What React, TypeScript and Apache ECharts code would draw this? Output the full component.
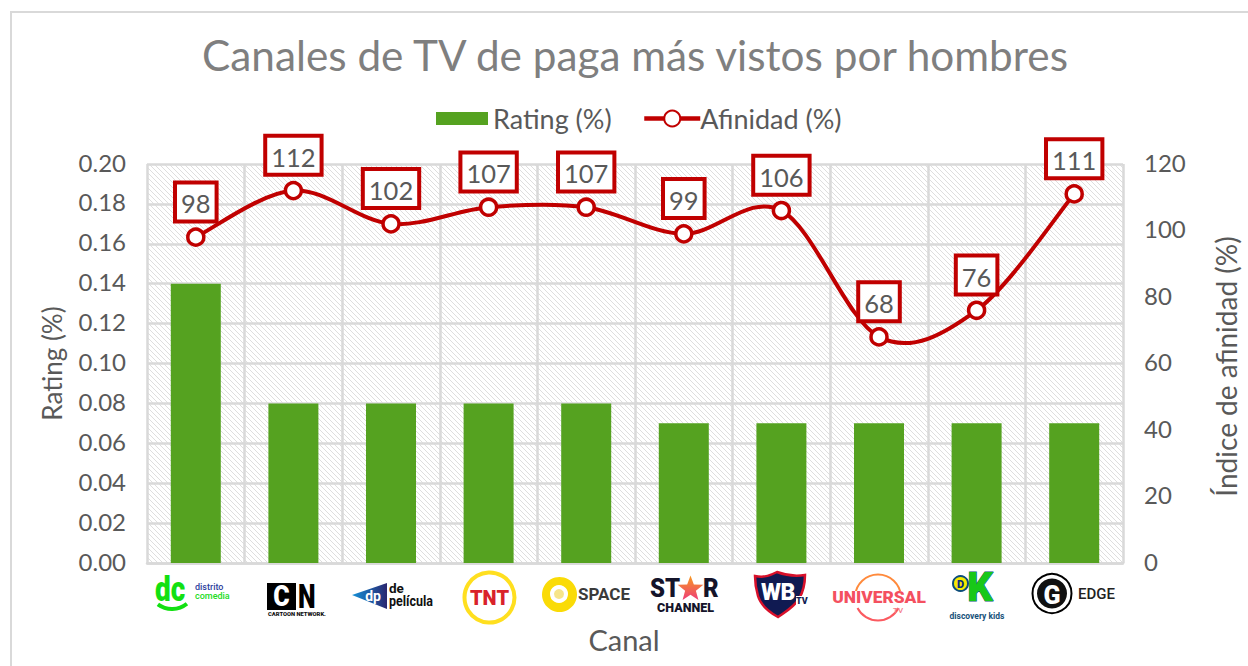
import React, { useEffect, useRef } from "react";
import * as echarts from "echarts";

const channels = ["Distrito Comedia", "Cartoon Network", "De Película", "TNT", "Space", "Star Channel", "WB TV", "Universal TV", "Discovery Kids", "Edge"];
const ratingValues = [0.14, 0.08, 0.08, 0.08, 0.08, 0.07, 0.07, 0.07, 0.07, 0.07];
const affinityValues = [98, 112, 102, 107, 107, 99, 106, 68, 76, 111];

const FONT = "Lato";
const GRAY = "#595959";
const RED = "#c00000";
const GREEN = "#55a220";
const GRID = { left: 147, right: 125, top: 164, bottom: 103 };

echarts.graphic.registerShape(
  "wbShield",
  echarts.graphic.extendPath(
    "M0 4 C10 6 16 3 22 0 C30 3 38 5 50 3 C50 12 48 20 44 27 C38 36 30 40 23 45 C14 40 6 34 3 24 C1 17 0 10 0 4 Z",
    {}
  )
);

function hatch() {
  const s = 5;
  const c = document.createElement("canvas");
  c.width = s;
  c.height = s;
  const g = c.getContext("2d")!;
  g.fillStyle = "#ffffff";
  g.fillRect(0, 0, s, s);
  g.strokeStyle = "#dedede";
  g.lineWidth = 1;
  g.beginPath();
  g.moveTo(-1, -1);
  g.lineTo(s + 1, s + 1);
  g.moveTo(-1, s - 1);
  g.lineTo(1, s + 1);
  g.moveTo(s - 1, -1);
  g.lineTo(s + 1, 1);
  g.stroke();
  return c;
}

const txt = (x: number, y: number, text: string, fontSize: number, fill: string, fontWeight: any = 700, textAlign = "left", scaleY = 1, extra: any = {}) => ({
  type: "text",
  x,
  y,
  scaleY,
  silent: true,
  style: { text, fontSize, fill, fontWeight, textAlign, textVerticalAlign: "middle", fontFamily: "Roboto", ...extra },
});

const star = (cx: number, cy: number, r: number) => {
  const pts: number[][] = [];
  for (let i = 0; i < 10; i++) {
    const a = -Math.PI / 2 + (i * Math.PI) / 5;
    const q = i % 2 ? r * 0.42 : r;
    pts.push([cx + q * Math.cos(a), cy + q * Math.sin(a)]);
  }
  return pts;
};

const logos: any[] = [
  // Distrito Comedia
  { type: "arc", shape: { cx: 172, cy: 585, r: 24, startAngle: 0.9, endAngle: 2.2 }, style: { stroke: "#12e012", lineWidth: 4, fill: "none" } },
  txt(155, 589, "dc", 28, "#12e012", 900, "left", 1.25),
  txt(195, 586.5, "distrito", 9, "#2e3f9e", 500),
  txt(195, 596, "comedia", 9, "#22dc22", 500),
  // Cartoon Network
  { type: "rect", shape: { x: 267, y: 583, width: 29, height: 27 }, style: { fill: "#000" } },
  txt(281.5, 596.5, "C", 25, "#fff", 900, "center", 1.15),
  txt(298, 596.5, "N", 25, "#000", 900, "left", 1.3),
  txt(268, 614, "CARTOON NETWORK.", 5.8, "#111", 900),
  // De Película
  { type: "polygon", shape: { points: [[352, 595], [387, 583], [387, 609]] }, style: { fill: new echarts.graphic.LinearGradient(0, 0, 1, 0, [{ offset: 0, color: "#1491d8" }, { offset: 1, color: "#2a2670" }]) } },
  txt(373, 596, "dp", 14, "#fff", 700, "center"),
  txt(389, 588, "de", 13.5, "#111", 700),
  txt(389, 601, "película", 12.5, "#111", 700, "left", 1.1),
  // TNT
  { type: "circle", shape: { cx: 489.5, cy: 597.5, r: 25 }, style: { fill: "#fff", stroke: "#ffdf1f", lineWidth: 4 } },
  txt(489.5, 598, "TNT", 20, "#d9222a", 900, "center"),
  // Space
  { type: "circle", shape: { cx: 559.5, cy: 594.5, r: 17.5 }, style: { fill: "#fadb06" } },
  { type: "circle", shape: { cx: 559, cy: 594, r: 7 }, style: { fill: "#f7e58a", stroke: "#fff", lineWidth: 4 } },
  txt(578, 594, "SPACE", 17, "#3a3a3a", 700),
  // Star Channel
  txt(650, 588, "ST", 24, "#14142a", 900, "left", 1.1),
  { type: "polygon", shape: { points: star(690.5, 589, 13.5) }, style: { fill: new echarts.graphic.LinearGradient(0, 0, 0, 1, [{ offset: 0, color: "#f79a20" }, { offset: 1, color: "#ee3d78" }]) } },
  txt(703, 588, "R", 24, "#14142a", 900, "left", 1.1),
  txt(685.5, 607, "CHANNEL", 12.5, "#14142a", 900, "center"),
  // WB TV
  { type: "wbShield", x: 755, y: 572, style: { fill: "#101a52", stroke: "#d8102a", lineWidth: 2.5 } },
  txt(771, 592, "W", 23, "#fff", 900, "center"),
  txt(788, 592, "B", 23, "#fff", 900, "center"),
  { type: "rect", shape: { x: 796, y: 596, width: 13, height: 10 }, style: { fill: "#fff" } },
  txt(796, 601, "TV", 9, "#101a52", 900),
  // Universal TV
  { type: "arc", shape: { cx: 878, cy: 597.5, r: 23, startAngle: Math.PI * 1.02, endAngle: Math.PI * 1.98 }, style: { stroke: "#ff8a3c", lineWidth: 2, fill: "none" } },
  { type: "arc", shape: { cx: 878, cy: 597.5, r: 23, startAngle: Math.PI * 0.15, endAngle: Math.PI * 0.85 }, style: { stroke: "#fb5a60", lineWidth: 2, fill: "none" } },
  { type: "rect", shape: { x: 833, y: 591, width: 92, height: 14 }, style: { fill: "#fff" } },
  txt(879, 597, "UNIVERSAL", 17.4, "#f4505f", 900, "center"),
  txt(898, 610, "TV", 8, "#f4808a", 500, "center"),
  // Discovery Kids
  txt(980, 587, "K", 40, "#18c818", 900, "center", 1, { stroke: "#0d5a7a", lineWidth: 1 }),
  { type: "circle", shape: { cx: 960.5, cy: 583.5, r: 7.5 }, style: { fill: "#f6ea00", stroke: "#0d4d7a", lineWidth: 2 } },
  txt(960.5, 584, "D", 11, "#0d2d7a", 900, "center"),
  txt(977, 616, "discovery kids", 8.5, "#17527a", 700, "center"),
  // Edge
  { type: "circle", shape: { cx: 1052, cy: 593.5, r: 19.5 }, style: { fill: "#fff", stroke: "#000", lineWidth: 2 } },
  { type: "circle", shape: { cx: 1052, cy: 593.5, r: 15 }, style: { fill: "#111" } },
  txt(1052, 595, "G", 25, "#fff", 900, "center"),
  txt(1078, 594, "EDGE", 15, "#222", 500),
];

// Excel-style smoothing: cubic segments with tangents (next - prev) / 6, free to overshoot.
const renderCurve = (params: any, api: any) => {
  const i = params.dataIndex;
  const n = affinityValues.length;
  if (i >= n - 1) return null;
  const pt = (k: number) => {
    const j = Math.max(0, Math.min(n - 1, k));
    return api.coord([j, affinityValues[j]]);
  };
  const p0 = pt(i - 1);
  const p1 = pt(i);
  const p2 = pt(i + 1);
  const p3 = pt(i + 2);
  return {
    type: "bezierCurve",
    shape: {
      x1: p1[0],
      y1: p1[1],
      x2: p2[0],
      y2: p2[1],
      cpx1: p1[0] + (p2[0] - p0[0]) / 6,
      cpy1: p1[1] + (p2[1] - p0[1]) / 6,
      cpx2: p2[0] - (p3[0] - p1[0]) / 6,
      cpy2: p2[1] - (p3[1] - p1[1]) / 6,
    },
    style: { stroke: RED, lineWidth: 4, fill: "none" },
  };
};

const legendText = { fontSize: 27, color: GRAY, fontFamily: FONT };
const tickRich = { t: { fontSize: 24, color: GRAY, fontFamily: FONT, padding: [0, 0, 4, 0] } };

const App = () => {
  const ref = useRef<HTMLDivElement>(null);
  useEffect(() => {
    const chart = echarts.init(ref.current!, undefined, { renderer: "svg" });
    chart.setOption({
      animation: false,
      backgroundColor: "#fff",
      textStyle: { fontFamily: FONT },
      title: {
        text: "Canales de TV de paga más vistos por hombres",
        left: 630,
        top: 28,
        textAlign: "center",
        textStyle: { fontFamily: FONT, fontSize: 42.3, fontWeight: 400, color: "#7f7f7f" },
      },
      legend: [
        {
          top: 105,
          left: 436,
          padding: 0,
          itemWidth: 52,
          itemHeight: 13,
          textStyle: legendText,
          data: [{ name: "Rating (%)", icon: "rect" }],
        },
        {
          top: 105,
          left: 642,
          padding: 0,
          itemWidth: 56,
          itemHeight: 20,
          textStyle: { ...legendText, padding: [0, 0, 0, -5] },
          data: [{ name: "Afinidad (%)", lineStyle: { color: RED, width: 4.5, opacity: 1 } }],
        },
      ],
      grid: {
        ...GRID,
        show: true,
        borderWidth: 0,
        outerBoundsMode: "none",
        backgroundColor: { image: hatch(), repeat: "repeat" },
      },
      xAxis: {
        type: "category",
        data: channels,
        name: "Canal",
        nameLocation: "middle",
        nameGap: 62,
        nameTextStyle: { fontSize: 29, color: GRAY, fontFamily: FONT, padding: [0, 22, 0, 0] },
        axisLabel: { show: false },
        axisTick: { show: false },
        axisLine: { lineStyle: { color: "#d9d9d9", width: 2.5 } },
        splitLine: { show: true, interval: 0, showMinLine: true, showMaxLine: true, lineStyle: { color: "#d9d9d9", width: 2.5 } },
      },
      yAxis: [
        {
          type: "value",
          min: 0,
          max: 0.2,
          interval: 0.02,
          name: "Rating (%)",
          nameLocation: "middle",
          nameRotate: 90,
          nameGap: 82,
          nameTextStyle: { fontSize: 26, color: GRAY, fontFamily: FONT },
          axisLabel: { margin: 21, rich: tickRich, formatter: (v: number) => `{t|${v.toFixed(2)}}` },
          axisLine: { show: false },
          axisTick: { show: false },
          splitLine: { show: true, lineStyle: { color: "#d9d9d9", width: 2.5 } },
        },
        {
          type: "value",
          min: 0,
          max: 120,
          interval: 20,
          name: "Índice de afinidad (%)",
          nameLocation: "middle",
          nameRotate: 90,
          nameGap: 89,
          nameTextStyle: { fontSize: 28, color: GRAY, fontFamily: FONT, padding: [0, 6, 0, 0] },
          axisLabel: { margin: 21, rich: tickRich, formatter: (v: number) => `{t|${v}}` },
          axisLine: { show: false },
          axisTick: { show: false },
          splitLine: { show: false },
        },
      ],
      series: [
        {
          name: "Rating (%)",
          type: "bar",
          data: ratingValues,
          barWidth: 50,
          itemStyle: { color: GREEN },
        },
        {
          name: "Curva",
          type: "custom",
          yAxisIndex: 1,
          coordinateSystem: "cartesian2d",
          data: affinityValues.map((v, i) => [i, v]),
          encode: { x: 0, y: 1 },
          renderItem: renderCurve,
          silent: true,
          z: 3,
        },
        {
          name: "Afinidad (%)",
          type: "line",
          yAxisIndex: 1,
          data: affinityValues,
          symbol: "circle",
          symbolSize: 16,
          lineStyle: { color: RED, width: 0, opacity: 0 },
          itemStyle: { color: "#fff", borderColor: RED, borderWidth: 3.5 },
          z: 4,
          label: {
            show: true,
            position: "top",
            distance: 8,
            fontSize: 25.5,
            fontFamily: FONT,
            color: GRAY,
            backgroundColor: "#fff",
            borderColor: RED,
            borderWidth: 4,
            borderRadius: 0,
            padding: [6, 4, 3, 4],
          },
        },
      ],
      graphic: [
        { type: "rect", shape: { x: 11, y: 12, width: 1248, height: 670 }, z: -10, style: { fill: "none", stroke: "#d9d9d9", lineWidth: 2 }, silent: true },
        ...logos,
      ],
    });
    return () => chart.dispose();
  }, []);
  return <div ref={ref} style={{ position: "fixed", left: 0, top: 0, width: 1248, height: 666 }} />;
};

export default App;
